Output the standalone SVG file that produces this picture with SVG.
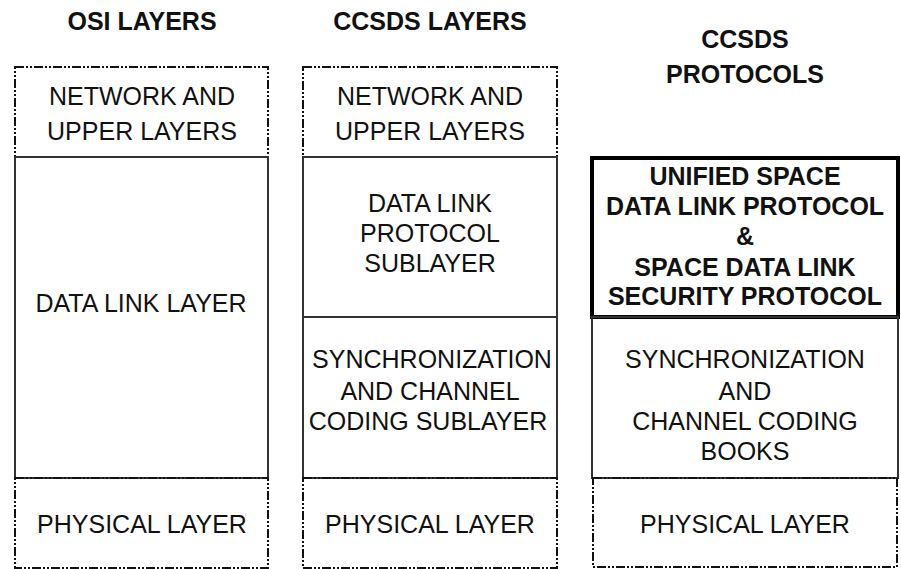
<svg xmlns="http://www.w3.org/2000/svg" width="901" height="569" viewBox="0 0 901 569">
<style>
text{font-family:"Liberation Sans",Arial,sans-serif;font-size:25px;fill:#111;text-anchor:middle}
.h{font-weight:bold;font-size:25px}
.b{font-weight:bold}
.dash{fill:none;stroke:#111;stroke-width:2;stroke-dasharray:9 2 2 2 2 2}
.solid{fill:none;stroke:#333;stroke-width:2}
.thick{fill:none;stroke:#000;stroke-width:4}
</style>
<rect width="901" height="569" fill="#fff"/>
<g id="headings">
<text class="h" x="142" y="30">OSI LAYERS</text>
<text class="h" x="430" y="30">CCSDS LAYERS</text>
<text class="h" x="745" y="48">CCSDS</text>
<text class="h" x="745" y="83">PROTOCOLS</text>
</g>
<g id="osi-network">
<rect class="dash" x="15" y="67" width="253" height="90"/>
<text x="142" y="105">NETWORK AND</text>
<text x="142" y="140">UPPER LAYERS</text>
</g>
<g id="osi-datalink">
<rect class="solid" x="15" y="157" width="253" height="321"/>
<text x="141" y="312">DATA LINK LAYER</text>
</g>
<g id="osi-physical">
<rect class="dash" x="15" y="478" width="253" height="90"/>
<text x="142" y="533">PHYSICAL LAYER</text>
</g>
<g id="ccsds-network">
<rect class="dash" x="303" y="67" width="254" height="90"/>
<text x="430" y="105">NETWORK AND</text>
<text x="430" y="140">UPPER LAYERS</text>
</g>
<g id="ccsds-dlp">
<rect class="solid" x="303" y="157" width="254" height="160"/>
<text x="430" y="212">DATA LINK</text>
<text x="430" y="242">PROTOCOL</text>
<text x="430" y="272">SUBLAYER</text>
</g>
<g id="ccsds-sync">
<rect class="solid" x="303" y="317" width="254" height="161"/>
<text x="432" y="368">SYNCHRONIZATION</text>
<text x="430" y="400">AND CHANNEL</text>
<text x="428" y="430">CODING SUBLAYER</text>
</g>
<g id="ccsds-physical">
<rect class="dash" x="303" y="478" width="254" height="90"/>
<text x="430" y="533">PHYSICAL LAYER</text>
</g>
<g id="proto-usdlp">
<rect class="thick" x="592" y="158" width="306" height="159"/>
<text class="b" x="745" y="185">UNIFIED SPACE</text>
<text class="b" x="745" y="215">DATA LINK PROTOCOL</text>
<text class="b" x="745" y="245">&amp;</text>
<text class="b" x="745" y="276">SPACE DATA LINK</text>
<text class="b" x="745" y="305">SECURITY PROTOCOL</text>
</g>
<g id="proto-sync">
<rect class="solid" x="592" y="317" width="306" height="161"/>
<text x="745" y="368">SYNCHRONIZATION</text>
<text x="745" y="400">AND</text>
<text x="745" y="430">CHANNEL CODING</text>
<text x="745" y="460">BOOKS</text>
</g>
<g id="proto-physical">
<rect class="dash" x="593" y="478" width="304" height="89"/>
<text x="745" y="533">PHYSICAL LAYER</text>
</g>
<g id="connectors"></g>
</svg>
